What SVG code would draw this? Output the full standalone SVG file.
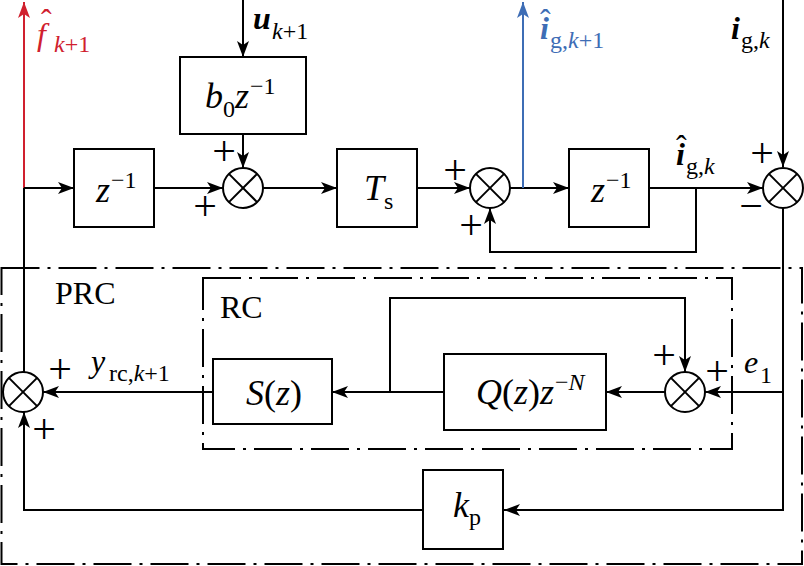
<svg xmlns="http://www.w3.org/2000/svg" width="804" height="566" viewBox="0 0 804 566">
<style>
text{font-family:"Liberation Serif","Times New Roman",serif;fill:#000}
.it{font-style:italic}
.bi{font-style:italic;font-weight:bold}
.m{font-size:36px}
.l{font-size:32px}
.s{font-size:24px}
.pm{font-size:42px;text-anchor:middle}
.ti{font-size:32px}
.box{fill:#fff;stroke:#000;stroke-width:2}
.sum circle{fill:#fff;stroke:#000;stroke-width:2}
.sum line{stroke:#000;stroke-width:2}
.c{fill:none;stroke:#000;stroke-width:2;marker-end:url(#ah)}
.cn{fill:none;stroke:#000;stroke-width:2}
.dd{fill:none;stroke:#000;stroke-width:2;stroke-dasharray:38 8 3 8}
.red{fill:#d0202e}
.blue{fill:#3e6db5}
</style>
<defs>
<marker id="ah" viewBox="0 0 16 12" refX="16" refY="6" markerWidth="16" markerHeight="12" markerUnits="userSpaceOnUse" orient="auto"><path d="M0,0 L16,6 L0,12 L4,6 Z" fill="#000"/></marker>
<marker id="ahr" viewBox="0 0 16 12" refX="16" refY="6" markerWidth="16" markerHeight="12" markerUnits="userSpaceOnUse" orient="auto"><path d="M0,0 L16,6 L0,12 L4,6 Z" fill="#d0202e"/></marker>
<marker id="ahb" viewBox="0 0 16 12" refX="16" refY="6" markerWidth="16" markerHeight="12" markerUnits="userSpaceOnUse" orient="auto"><path d="M0,0 L16,6 L0,12 L4,6 Z" fill="#3e6db5"/></marker>
</defs>

<g id="frames">
<rect id="prc-frame" class="dd" x="1.5" y="268" width="800.5" height="296"/>
<rect id="rc-frame" class="dd" x="203" y="278" width="529" height="171"/>
<text class="ti" x="55" y="304">PRC</text>
<text class="ti" x="220" y="318">RC</text>
</g>

<g id="connectors">
<path class="cn" d="M24,372 L24,188"/>
<path d="M24,188 L24,2" fill="none" stroke="#d0202e" stroke-width="2" marker-end="url(#ahr)"/>
<path class="c" d="M24,188 L74,188"/>
<path class="c" d="M154,188 L223,188"/>
<path class="c" d="M243,0 L243,57"/>
<path class="c" d="M243,134 L243,168"/>
<path class="c" d="M263,188 L337,188"/>
<path class="c" d="M417,188 L470,188"/>
<path class="c" d="M510,188 L569,188"/>
<path d="M523,188 L523,2" fill="none" stroke="#3e6db5" stroke-width="2" marker-end="url(#ahb)"/>
<path class="c" d="M649,188 L763,188"/>
<path class="c" d="M696,188 L696,252 L490,252 L490,208"/>
<path class="c" d="M783,0 L783,167"/>
<path class="c" d="M783,208 L783,510 L504,510"/>
<path class="c" d="M783,392 L705,392"/>
<path class="c" d="M665,392 L606,392"/>
<path class="c" d="M444,392 L332,392"/>
<path class="c" d="M390,392 L390,298 L685,298 L685,372"/>
<path class="c" d="M213,392 L43,392"/>
<path class="c" d="M423,510 L24,510 L24,412"/>
</g>

<g id="delay1">
<rect class="box" x="74" y="149" width="80" height="78"/>
<text class="it m" x="96" y="202">z</text><text class="s" x="111" y="188">−1</text>
</g>
<g id="b0z">
<rect class="box" x="180" y="57" width="126" height="77"/>
<text class="it m" x="205" y="108">b</text><text class="s" x="223" y="117">0</text><text class="it m" x="235" y="108">z</text><text class="s" x="250" y="94">−1</text>
</g>
<g id="sum1" class="sum">
<circle cx="243" cy="188" r="20"/>
<line x1="228.9" y1="173.9" x2="257.1" y2="202.1"/><line x1="257.1" y1="173.9" x2="228.9" y2="202.1"/>
</g>
<g id="ts">
<rect class="box" x="337" y="149" width="80" height="78"/>
<text class="it m" x="364" y="200">T</text><text class="s" x="384" y="209">s</text>
</g>
<g id="sum2" class="sum">
<circle cx="490" cy="188" r="20"/>
<line x1="475.9" y1="173.9" x2="504.1" y2="202.1"/><line x1="504.1" y1="173.9" x2="475.9" y2="202.1"/>
</g>
<g id="delay2">
<rect class="box" x="569" y="149" width="80" height="78"/>
<text class="it m" x="591" y="202">z</text><text class="s" x="606" y="188">−1</text>
</g>
<g id="sum3" class="sum">
<circle cx="783" cy="188" r="20"/>
<line x1="768.9" y1="173.9" x2="797.1" y2="202.1"/><line x1="797.1" y1="173.9" x2="768.9" y2="202.1"/>
</g>
<g id="sum4" class="sum">
<circle cx="23" cy="392" r="20"/>
<line x1="8.9" y1="377.9" x2="37.1" y2="406.1"/><line x1="37.1" y1="377.9" x2="8.9" y2="406.1"/>
</g>
<g id="sz">
<rect class="box" x="213" y="359" width="119" height="65"/>
<text class="m" x="246" y="405"><tspan class="it">S</tspan>(<tspan class="it">z</tspan>)</text>
</g>
<g id="qz">
<rect class="box" x="444" y="354" width="162" height="76"/>
<text class="m" x="476" y="404"><tspan class="it">Q</tspan>(<tspan class="it">z</tspan>)<tspan class="it">z</tspan></text>
<text class="s" x="555" y="390">−<tspan class="it">N</tspan></text>
</g>
<g id="sum5" class="sum">
<circle cx="685" cy="392" r="20"/>
<line x1="670.9" y1="377.9" x2="699.1" y2="406.1"/><line x1="699.1" y1="377.9" x2="670.9" y2="406.1"/>
</g>
<g id="kp">
<rect class="box" x="423" y="470" width="80" height="79"/>
<text class="it m" x="453" y="517">k</text><text class="s" x="469" y="525">p</text>
</g>

<g id="labels">
<text class="l red"><tspan x="41" y="31">ˆ</tspan><tspan class="it" x="37" y="45">f</tspan></text>
<text class="s red" x="54" y="52"><tspan class="it">k</tspan>+1</text>
<text class="l bi" x="253" y="29">u</text><text class="s" x="272" y="39"><tspan class="it">k</tspan>+1</text>
<text class="l blue"><tspan x="540" y="31">ˆ</tspan><tspan class="bi" x="540" y="39">i</tspan></text>
<text class="s blue" x="550" y="48">g,<tspan class="it">k</tspan>+1</text>
<text class="l bi" x="731" y="39">i</text><text class="s" x="741" y="48">g,<tspan class="it">k</tspan></text>
<text class="l"><tspan x="676" y="157">ˆ</tspan><tspan class="bi" x="676" y="165">i</tspan></text>
<text class="s" x="686" y="174">g,<tspan class="it">k</tspan></text>
<text class="l it" x="91" y="372">y</text><text class="s" x="109" y="381">rc,<tspan class="it">k</tspan>+1</text>
<text class="l it" x="744" y="373">e</text><text class="s" x="760" y="383">1</text>
<text class="pm" x="224" y="165">+</text>
<text class="pm" x="205" y="220">+</text>
<text class="pm" x="455" y="184">+</text>
<text class="pm" x="471" y="239">+</text>
<text class="pm" x="762" y="167">+</text>
<text class="pm" x="751" y="220">−</text>
<text class="pm" x="60" y="383">+</text>
<text class="pm" x="44" y="443">+</text>
<text class="pm" x="664" y="369">+</text>
<text class="pm" x="717" y="385">+</text>
</g>
</svg>
